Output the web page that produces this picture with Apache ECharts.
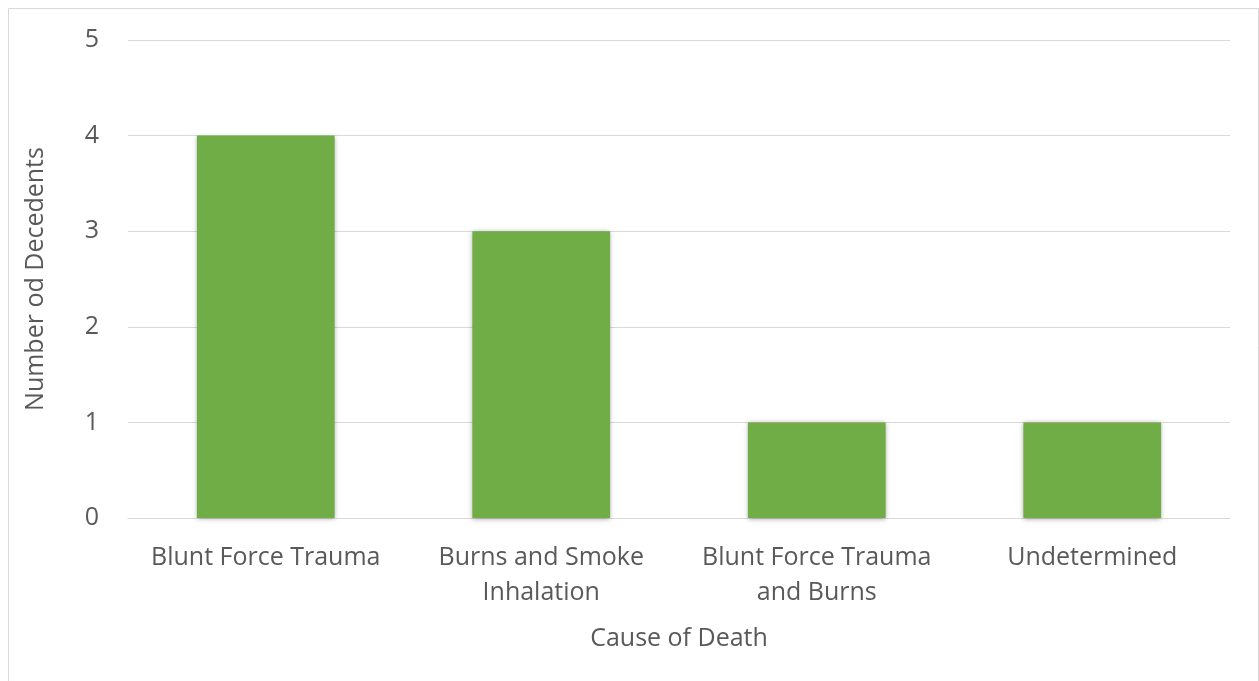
<!DOCTYPE html>
<html>
<head>
<meta charset="utf-8">
<script src="https://cdn.jsdelivr.net/npm/echarts@6/dist/echarts.min.js"></script>
<style>
  html, body { margin: 0; padding: 0; background: #ffffff; }
  #chart { width: 1259px; height: 681px; }
</style>
</head>
<body>
<div id="chart"></div>
<script>
// Causes of death and decedent counts
const categories = [
  'Blunt Force Trauma',
  'Burns and Smoke\nInhalation',
  'Blunt Force Trauma\nand Burns',
  'Undetermined'
];
const decedents = [4, 3, 1, 1];
const yTicks = [0, 1, 2, 3, 4, 5];

const FONT = 'Open Sans';
const SIZE = 25;
const TEXT = '#595959';
const GRIDLINE = '#d9d9d9';

const chart = echarts.init(document.getElementById('chart'), null, { renderer: 'canvas' });

chart.setOption({
  backgroundColor: '#ffffff',
  animation: false,
  graphic: [{
    type: 'rect',
    shape: { x: 8.5, y: 8.5, width: 1250, height: 700 },
    style: { fill: 'none', stroke: GRIDLINE, lineWidth: 1 },
    silent: true
  }],
  grid: { left: 128, right: 29, top: 40, bottom: 163, containLabel: false },
  xAxis: {
    type: 'category',
    data: categories,
    axisLine: { show: true, lineStyle: { color: GRIDLINE, width: 1 } },
    axisTick: { show: false },
    axisLabel: {
      color: TEXT, fontFamily: FONT, fontSize: SIZE, lineHeight: 35,
      margin: 22, interval: 0
    },
    name: 'Cause of Death',
    nameLocation: 'middle',
    nameGap: 108,
    nameTextStyle: { color: TEXT, fontFamily: FONT, fontSize: SIZE }
  },
  yAxis: {
    type: 'value',
    min: yTicks[0],
    max: yTicks[yTicks.length - 1],
    interval: 1,
    axisLine: { show: false },
    axisTick: { show: false },
    splitLine: { lineStyle: { color: GRIDLINE, width: 1 } },
    axisLabel: { color: TEXT, fontFamily: FONT, fontSize: SIZE, margin: 29 },
    name: 'Number od Decedents',
    nameLocation: 'middle',
    nameGap: 80,
    nameTextStyle: { color: TEXT, fontFamily: FONT, fontSize: SIZE }
  },
  series: [{
    type: 'bar',
    data: decedents,
    barWidth: '50%',
    itemStyle: {
      color: '#70ad47',
      shadowColor: 'rgba(0,0,0,0.35)',
      shadowBlur: 5,
      shadowOffsetX: 0,
      shadowOffsetY: 1
    }
  }]
});
</script>
</body>
</html>
